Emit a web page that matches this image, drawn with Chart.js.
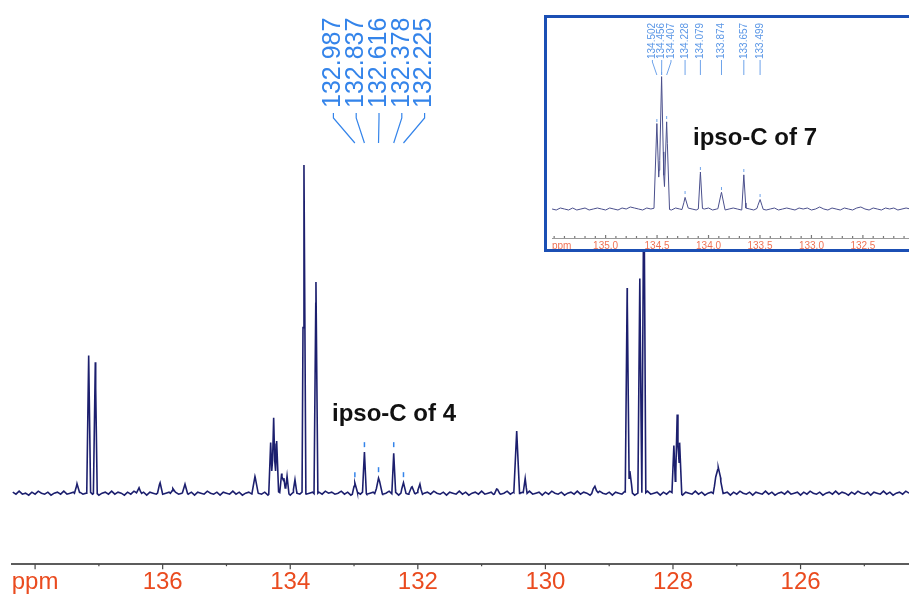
<!DOCTYPE html>
<html>
<head>
<meta charset="utf-8">
<script src="https://cdn.jsdelivr.net/npm/chart.js@4.4.1/dist/chart.umd.min.js"></script>
<style>
  html, body { margin: 0; padding: 0; background: #fff; overflow: hidden; }
  #wrap { position: relative; width: 909px; height: 594px; overflow: hidden; }
  #main { position: absolute; left: 0; top: 0; }
  #insetBox { position: absolute; left: 544px; top: 15px; width: 400px; height: 231px;
              border: 3px solid #1b4fb4; background: #fff; overflow: hidden; }
  #inset { position: absolute; left: 0; top: 0; }
</style>
</head>
<body>
<div id="wrap">
  <canvas id="main" width="909" height="594"></canvas>
  <div id="insetBox"><canvas id="inset" width="362" height="236"></canvas></div>
</div>
<script>
// ---- main 13C spectrum (compound 4) ----
const mainPeakPpm = [137.343, 137.160, 137.056, 136.37, 136.04, 135.84, 135.65, 134.553,
  134.307, 134.260, 134.213, 134.135, 134.100, 134.050, 133.926, 133.785, 133.597,
  132.987, 132.837, 132.616, 132.378, 132.225, 132.09, 131.967, 130.765, 130.450, 130.317,
  129.224, 128.718, 128.676, 128.520, 128.456, 127.986, 127.934, 127.892, 127.330, 127.290, 127.254];
const mainPeakHeight = [11, 136, 130, 6, 9, 6, 7, 15,
  50, 76, 51, 20, 16, 16, 13, 327, 213,
  10, 40, 15, 40, 10, 5, 10, 4, 64, 15,
  7, 205, 22, 214, 330, 48, 79, 50, 16, 23, 14];
const mainPeakHalfWidth = [0.04, 0.03, 0.03, 0.04, 0.04, 0.04, 0.04, 0.05,
  0.03, 0.03, 0.03, 0.03, 0.03, 0.03, 0.03, 0.03, 0.03,
  0.04, 0.03, 0.06, 0.03, 0.04, 0.05, 0.04, 0.05, 0.045, 0.03,
  0.05, 0.03, 0.04, 0.03, 0.03, 0.03, 0.03, 0.03, 0.04, 0.04, 0.04];
// picked lines of the ipso carbon
const mainLabelPpm = [132.987, 132.837, 132.616, 132.378, 132.225];
// baseline, one value every 0.05 ppm from 138.35 down to 124.30
const mainNoiseStart = 138.35, mainNoiseStep = 0.05;
const mainNoise = [
  1, -1, 2, -1, 0, -2, 1, -1, 2, 0, -1, 1, -2, 0, 1, -1, 2, -1, 0, 1,
  -2, 1, -1, 0, 2, -1, 1, -2, 0, 1, -1, 2, -1, 1, 0, -2, 1, -1, 2, 0,
  -1, 1, -2, 1, 0, -1, 2, -1, 0, 1, -2, 1, -1, 0, 2, -1, 1, -2, 1, 0,
  -1, 2, 0, -1, 1, -2, 1, 0, -1, 2, -1, 1, -2, 0, 1, -1, 2, 0, -1, 1,
  -2, 1, -1, 2, 0, -1, 1, -2, 1, 0, -1, 2, -1, 0, 1, -2, 1, -1, 2, 0,
  1, -1, 0, 2, -1, 1, -2, 0, 1, -1, 2, -1, 0, 1, -2, 1, -1, 0, 2, -1,
  1, -2, 1, 0, -1, 2, -1, 1, -2, 0, 1, -1, 2, 0, -1, 1, -2, 1, 0, -1,
  2, -1, 1, -2, 0, 1, -1, 2, -1, 0, 1, -2, 1, -1, 0, 2, -1, 1, -2, 0,
  1, -1, 2, -1, 0, 1, -2, 1, -1, 2, 0, -1, 1, -2, 0, 1, -1, 2, -1, 1,
  0, -2, 1, -1, 2, 0, -1, 1, -2, 1, 0, -1, 2, -1, 1, -2, 0, 1, -1, 2,
  -1, 0, 1, -2, 1, -1, 2, 0, -1, 1, -2, 1, 0, -1, 2, -1, 1, -2, 0, 1,
  -1, 2, -1, 0, 1, -2, 1, -1, 2, 0, -1, 1, -2, 1, 0, -1, 2, -1, 1, -2,
  0, 1, -1, 2, -1, 0, 1, -2, 1, -1, 2, 0, -1, 1, -2, 0, 1, -1, 2, -1,
  1, 0, -2, 1, -1, 2, 0, -1, 1, -2, 1, 0, -1, 2, -1, 1, -2, 0, 1, -1,
  2, 0];
const mainTickValues = [138, 137, 136, 135, 134, 133, 132, 131, 130, 129, 128, 127, 126, 125];
const mainTickText = ['ppm', '', '136', '', '134', '', '132', '', '130', '', '128', '', '126', ''];

// ---- inset spectrum (compound 7) ----
const insetPeakPpm = [134.502, 134.456, 134.407, 134.228, 134.079, 133.874, 133.657, 133.499];
const insetPeakHeight = [84, 131, 87, 12, 36, 16, 34, 9];
const insetPeakHalfWidth = [0.028, 0.028, 0.028, 0.03, 0.02, 0.035, 0.02, 0.03];
// baseline, one value every 0.04 ppm from 135.52 down to 132.04
const insetNoiseStart = 135.52, insetNoiseStep = 0.04;
const insetNoise = [
  0, -1, 1, 0, -1, 1, -1, 0, 1, -1,
  0, 1, 0, -1, 1, 0, -1, 1, 0, 2,
  1, 0, -1, 1, 0, 1, 2, 1, 0, -1,
  1, 0, -1, 1, 0, -1, 1, 0, 1, -1,
  0, 1, -1, 0, 1, 0, -1, 1, 0, -1,
  1, 0, -1, 0, 1, -1, 0, 1, 0, -1,
  1, 0, 1, -1, 0, 2, 0, -1, 1, 0,
  -1, 1, 0, -1, 1, 2, 0, -1, 1, 0,
  -1, 1, 0, 1, -1, 0, 1, 0];
const insetTickValues = [135.5, 135.4, 135.3, 135.2, 135.1, 135.0, 134.9, 134.8, 134.7, 134.6,
  134.5, 134.4, 134.3, 134.2, 134.1, 134.0, 133.9, 133.8, 133.7, 133.6,
  133.5, 133.4, 133.3, 133.2, 133.1, 133.0, 132.9, 132.8, 132.7, 132.6,
  132.5, 132.4, 132.3, 132.2, 132.1];
const insetMajorTicks = [135.0, 134.5, 134.0, 133.5, 133.0, 132.5];
const insetMajorText = ['135.0', '134.5', '134.0', '133.5', '133.0', '132.5'];

// baseline + triangular lines, sampled at every breakpoint
function buildTrace(ppm, height, hw, noise, start, step) {
  const xs = noise.map((n, i) => start - i * step);
  ppm.forEach((p, i) => xs.push(p + hw[i], p, p - hw[i]));
  xs.sort((a, b) => b - a);
  return xs.map(x => {
    const f = (start - x) / step;
    const i = Math.max(0, Math.min(noise.length - 2, Math.floor(f)));
    const t = Math.max(0, Math.min(1, f - i));
    let y = noise[i] * (1 - t) + noise[i + 1] * t;
    ppm.forEach((p, k) => {
      const d = Math.abs(x - p);
      if (d < hw[k]) y += height[k] * (1 - d / hw[k]);
    });
    return { x, y };
  });
}

// spread crowded labels evenly around the middle of each cluster
function spreadLabels(px, gap) {
  const out = px.slice();
  let start = 0;
  for (let i = 1; i <= px.length; i++) {
    if (i === px.length || Math.abs(px[i] - px[i - 1]) >= gap) {
      const n = i - start;
      const mid = px.slice(start, i).reduce((a, b) => a + b, 0) / n;
      for (let k = 0; k < n; k++) out[start + k] = mid + (k - (n - 1) / 2) * gap;
      start = i;
    }
  }
  return out;
}

function drawTicks(ctx, scale, values, isMajor, len, dir, color) {
  ctx.save();
  ctx.strokeStyle = color;
  ctx.lineWidth = 1.2;
  const y0 = scale.top;
  values.forEach(v => {
    const x = scale.getPixelForValue(v);
    const l = isMajor(v) ? len[0] : len[1];
    ctx.beginPath();
    ctx.moveTo(x, y0);
    ctx.lineTo(x, y0 + dir * l);
    ctx.stroke();
  });
  ctx.restore();
}

const mainDecor = {
  id: 'mainDecor',
  afterDraw(chart) {
    const { ctx, scales: { x, y } } = chart;
    drawTicks(ctx, x, mainTickValues, v => v % 2 === 0, [5, 2], 1, '#444');

    const px = mainLabelPpm.map(p => x.getPixelForValue(p));
    const lx = spreadLabels(px, 22.8);
    ctx.save();
    ctx.strokeStyle = '#3484ea';
    ctx.fillStyle = '#3484ea';
    ctx.lineWidth = 1.2;
    mainLabelPpm.forEach((p, i) => {
      ctx.beginPath();
      ctx.moveTo(lx[i], 113);
      ctx.lineTo(lx[i], 118);
      ctx.lineTo(px[i], 143);
      ctx.stroke();
      ctx.save();
      ctx.translate(lx[i], 108);
      ctx.rotate(-Math.PI / 2);
      ctx.font = '300 25px "Liberation Sans", Arial, sans-serif';
      ctx.textAlign = 'left';
      ctx.textBaseline = 'middle';
      ctx.fillText(p.toFixed(3), 0, 0);
      ctx.restore();
      // peak-pick marker above the line
      const k = mainPeakPpm.indexOf(p);
      const top = y.getPixelForValue(mainPeakHeight[k]);
      ctx.lineWidth = 1.5;
      ctx.beginPath();
      ctx.moveTo(px[i], top - 11);
      ctx.lineTo(px[i], top - 6);
      ctx.stroke();
      ctx.lineWidth = 1.2;
    });
    ctx.fillStyle = '#111';
    ctx.font = 'bold 24px "Liberation Sans", Arial, sans-serif';
    ctx.textAlign = 'left';
    ctx.textBaseline = 'alphabetic';
    ctx.fillText('ipso-C of 4', 332, 421);
    ctx.restore();
  }
};

const insetDecor = {
  id: 'insetDecor',
  afterDraw(chart) {
    const { ctx, chartArea, scales: { x, y } } = chart;
    drawTicks(ctx, x, insetTickValues,
      v => insetMajorTicks.some(m => Math.abs(m - v) < 1e-6), [3, 2], -1, '#777');

    ctx.save();
    ctx.fillStyle = '#f07356';
    ctx.font = '10px "Liberation Sans", Arial, sans-serif';
    ctx.textAlign = 'left';
    ctx.textBaseline = 'middle';
    ctx.fillText('ppm', chartArea.left, chartArea.bottom + 8);

    const px = insetPeakPpm.map(p => x.getPixelForValue(p));
    const lx = spreadLabels(px, 9.3);
    ctx.strokeStyle = '#6ea3ea';
    ctx.fillStyle = '#5b97e6';
    ctx.lineWidth = 1;
    insetPeakPpm.forEach((p, i) => {
      ctx.beginPath();
      ctx.moveTo(lx[i], 42);
      ctx.lineTo(lx[i], 44);
      ctx.lineTo(px[i], 57);
      ctx.stroke();
      ctx.save();
      ctx.translate(lx[i], 41);
      ctx.rotate(-Math.PI / 2);
      ctx.font = '10px "Liberation Sans", Arial, sans-serif';
      ctx.textAlign = 'left';
      ctx.textBaseline = 'middle';
      ctx.fillText(p.toFixed(3), 0, 0);
      ctx.restore();
      const top = y.getPixelForValue(insetPeakHeight[i]);
      ctx.beginPath();
      ctx.moveTo(px[i], top - 6);
      ctx.lineTo(px[i], top - 3);
      ctx.stroke();
    });
    ctx.fillStyle = '#111';
    ctx.font = 'bold 24px "Liberation Sans", Arial, sans-serif';
    ctx.textBaseline = 'alphabetic';
    ctx.fillText('ipso-C of 7', 146, 127);
    ctx.restore();
  }
};

new Chart(document.getElementById('main').getContext('2d'), {
  type: 'line',
  data: {
    datasets: [{
      data: buildTrace(mainPeakPpm, mainPeakHeight, mainPeakHalfWidth, mainNoise, mainNoiseStart, mainNoiseStep),
      borderColor: '#1c1f6e',
      borderWidth: 1.6,
      pointRadius: 0,
      tension: 0
    }]
  },
  options: {
    responsive: false,
    animation: false,
    devicePixelRatio: 1,
    layout: { padding: { left: 12, right: 0, top: 0, bottom: -7 } },
    plugins: { legend: { display: false }, tooltip: { enabled: false } },
    scales: {
      x: {
        type: 'linear',
        reverse: true,
        min: 124.30,
        max: 138.362,
        afterBuildTicks: s => { s.ticks = mainTickValues.map(v => ({ value: v })); },
        grid: { display: false, drawTicks: false, tickLength: 0 },
        border: { display: true, color: '#5c5c5c', width: 2 },
        ticks: {
          autoSkip: false,
          maxRotation: 0,
          padding: 4,
          color: '#ea4b1f',
          font: { family: '"Liberation Sans", Arial, sans-serif', size: 24 },
          callback: v => mainTickText[mainTickValues.indexOf(v)] ?? ''
        }
      },
      y: { display: false, min: -71, max: 493 }
    }
  },
  plugins: [mainDecor]
});

new Chart(document.getElementById('inset').getContext('2d'), {
  type: 'line',
  data: {
    datasets: [{
      data: buildTrace(insetPeakPpm, insetPeakHeight, insetPeakHalfWidth, insetNoise, insetNoiseStart, insetNoiseStep),
      borderColor: '#4a4f8c',
      borderWidth: 1,
      pointRadius: 0,
      tension: 0
    }]
  },
  options: {
    responsive: false,
    animation: false,
    devicePixelRatio: 1,
    layout: { padding: { left: 5, right: 0, top: 0, bottom: 0 } },
    plugins: { legend: { display: false }, tooltip: { enabled: false } },
    scales: {
      x: {
        type: 'linear',
        reverse: true,
        min: 132.052,
        max: 135.521,
        afterBuildTicks: s => { s.ticks = insetTickValues.map(v => ({ value: v })); },
        grid: { display: false, drawTicks: false, tickLength: 0 },
        border: { display: true, color: '#9a9a9a', width: 1 },
        ticks: {
          autoSkip: false,
          maxRotation: 0,
          padding: 2,
          color: '#f07356',
          font: { family: '"Liberation Sans", Arial, sans-serif', size: 10 },
          callback: v => {
            const i = insetMajorTicks.findIndex(m => Math.abs(m - v) < 1e-6);
            return i < 0 ? '' : insetMajorText[i];
          }
        }
      },
      y: { display: false, min: -29, max: 191 }
    }
  },
  plugins: [insetDecor]
});
</script>
</body>
</html>
